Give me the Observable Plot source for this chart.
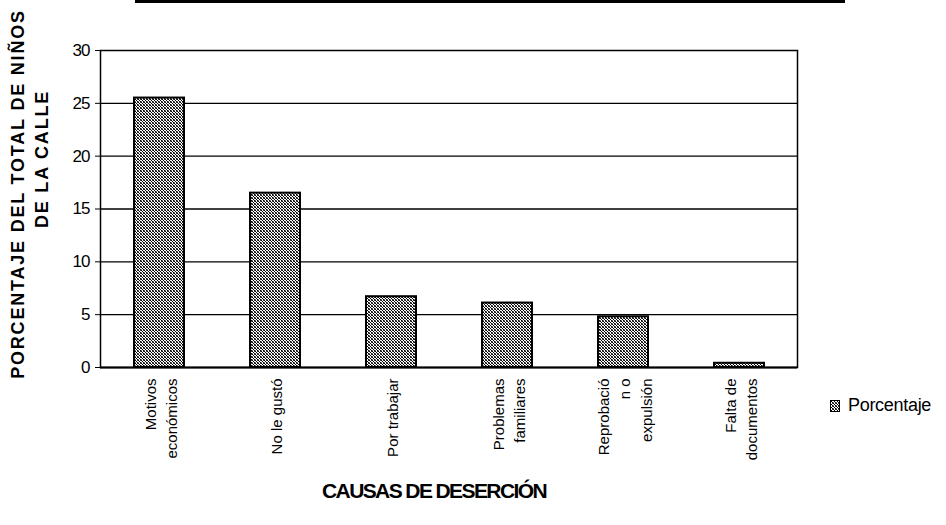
<!DOCTYPE html>
<html>
<head>
<meta charset="utf-8">
<script src="https://cdn.jsdelivr.net/npm/d3@7"></script>
<script src="https://cdn.jsdelivr.net/npm/@observablehq/plot@0.6"></script>
<style>
  html, body { margin: 0; padding: 0; background: #fff; }
  #wrap { position: relative; width: 946px; height: 525px; overflow: hidden; font-family: "Liberation Sans", Arial, sans-serif; }
  #topbar { position: absolute; left: 135px; top: 0; width: 710px; height: 3px; background: #000; }
  #legend { position: absolute; left: 830px; top: 395px; display: flex; align-items: center; gap: 8px; font-size: 18px; letter-spacing: -0.3px; color: #000; }
</style>
</head>
<body>
<div id="wrap">
  <div id="topbar"></div>
  <div id="chart"></div>
  <div id="legend">
    <svg width="10" height="12"><defs><pattern id="stipL" width="3" height="3" patternUnits="userSpaceOnUse"><rect width="3" height="3" fill="#fff"/><rect width="1" height="1" fill="#000"/><rect x="1" y="1" width="1" height="1" fill="#000"/><rect x="2" y="2" width="1" height="1" fill="#000"/><rect x="2" y="0" width="1" height="1" fill="#444"/><rect x="0" y="2" width="1" height="1" fill="#777"/></pattern></defs><rect x="0.5" y="0.5" width="9" height="11" fill="url(#stipL)" stroke="#000"/></svg>
    <span>Porcentaje</span>
  </div>
</div>
<script>
const causes = ["Motivos económicos", "No le gustó", "Por trabajar", "Problemas familiares", "Reprobación o expulsión", "Falta de documentos"];
const tickLabels = ["Motivos\neconómicos", "No le gustó", "Por trabajar", "Problemas\nfamiliares", "Reprobació\nn o\nexpulsión", "Falta de\ndocumentos"];
const values = [25.5, 16.5, 6.7, 6.1, 4.8, 0.4];
const yTicks = [0, 5, 10, 15, 20, 25, 30];
const gridTicks = [5, 10, 15, 20, 25];
const seriesName = "Porcentaje";
const xTitle = "CAUSAS DE DESERCIÓN";
const yTitle1 = "PORCENTAJE DEL TOTAL DE NIÑOS";
const yTitle2 = "DE LA CALLE";

const data = causes.map((c, i) => ({cause: c, label: tickLabels[i], value: values[i]}));

const chart = Plot.plot({
  width: 946,
  height: 525,
  marginLeft: 100,
  marginRight: 149,
  marginTop: 50,
  marginBottom: 158,
  style: {fontFamily: "'Liberation Sans', Arial, sans-serif", color: "#000", background: "#fff"},
  x: {domain: causes, paddingInner: 0.57, paddingOuter: 0.285, axis: null},
  y: {domain: [0, 30], axis: null},
  marks: [
    Plot.ruleY(gridTicks, {stroke: "#000", strokeWidth: 1.3}),
    Plot.frame({stroke: "#000", strokeWidth: 1.5}),
    Plot.barY(data, {x: "cause", y: "value", fill: "url(#stip)", stroke: "#000", strokeWidth: 2}),
    Plot.ruleX([0], {frameAnchor: "left", stroke: "#000", strokeWidth: 2}),
    Plot.ruleY([0], {stroke: "#000", strokeWidth: 2}),
    Plot.axisY({ticks: yTicks, tickSize: 5, tickPadding: 6, fontSize: 17, tickFormat: d => String(d), label: null, stroke: "#000"}),
    Plot.text(data, {x: "cause", text: "label", frameAnchor: "bottom", dy: 11, rotate: -90, textAnchor: "end", lineAnchor: "middle", lineHeight: 1.45, fontSize: 15, fill: "#000", stroke: null}),
    Plot.text([xTitle], {frameAnchor: "bottom", dx: -15, dy: 130, fontSize: 21, fontWeight: "bold", fill: "#000"}),
    Plot.text([yTitle1], {frameAnchor: "left", dx: -82, dy: -15, rotate: -90, textAnchor: "middle", fontSize: 18, fontWeight: "bold", fill: "#000"}),
    Plot.text([yTitle2], {frameAnchor: "left", dx: -58, dy: -50, rotate: -90, textAnchor: "middle", fontSize: 18, fontWeight: "bold", fill: "#000"})
  ]
});

const svg = d3.select(chart);
svg.insert("defs", ":first-child").html('<pattern id="stip" width="3" height="3" patternUnits="userSpaceOnUse"><rect width="3" height="3" fill="#fff"/><rect width="1" height="1" fill="#000"/><rect x="1" y="1" width="1" height="1" fill="#000"/><rect x="2" y="2" width="1" height="1" fill="#000"/><rect x="2" y="0" width="1" height="1" fill="#444"/><rect x="0" y="2" width="1" height="1" fill="#777"/></pattern>');
svg.selectAll("text").filter(function() { return this.textContent === xTitle; }).style("letter-spacing", "-1.6px");
svg.selectAll("text").filter(function() { return this.textContent === yTitle1 || this.textContent === yTitle2; }).style("letter-spacing", "1.8px");
svg.selectAll("text").filter(function() { return /^\d+$/.test(this.textContent); }).style("letter-spacing", "-1px");
document.getElementById("chart").appendChild(chart);
document.querySelector("#legend span").textContent = seriesName;
</script>
</body>
</html>
